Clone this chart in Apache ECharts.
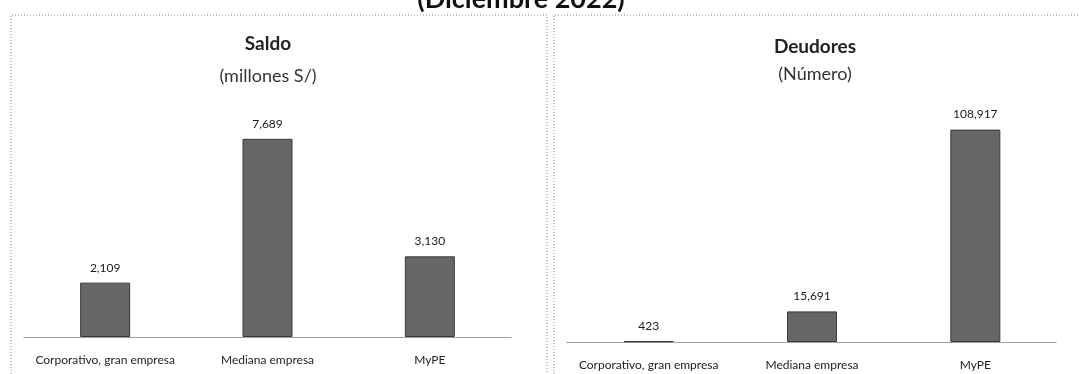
<!DOCTYPE html>
<html>
<head>
<meta charset="utf-8">
<script src="https://cdn.jsdelivr.net/npm/echarts@6/dist/echarts.min.js"></script>
<style>
  html, body { margin: 0; padding: 0; background: #fff; }
  #chart { width: 1079px; height: 374px; }
</style>
</head>
<body>
<div id="chart"></div>
<script>
// Segments shown on both panels
const categories = ['Corporativo, gran empresa', 'Mediana empresa', 'MyPE'];
// Loan balance, millions of soles
const saldo = [2109, 7689, 3130];
// Number of debtors
const deudores = [423, 15691, 108917];

const FONT = 'Lato, "Open Sans", sans-serif';
const BAR_COLOR = '#666666';
const fmt = v => v.toLocaleString('en-US');

const chart = echarts.init(document.getElementById('chart'), null, { renderer: 'canvas' });

function xAxis(gridIndex) {
  return {
    type: 'category', gridIndex, data: categories,
    axisTick: { show: false },
    axisLine: { show: true, lineStyle: { color: '#8a8a8a', type: [1, 1], width: 1 } },
    axisLabel: { color: '#222', fontFamily: FONT, fontSize: 12, margin: 17, interval: 0 }
  };
}
function yAxis(gridIndex, max) {
  return {
    type: 'value', gridIndex, min: 0, max,
    show: false, splitLine: { show: false }
  };
}
function barSeries(idx, data) {
  return {
    type: 'bar', xAxisIndex: idx, yAxisIndex: idx, data,
    barWidth: 50,
    itemStyle: { color: BAR_COLOR, borderColor: '#3a3a3a', borderWidth: 1 },
    label: {
      show: true, position: 'top', distance: 9,
      color: '#1a1a1a', fontFamily: FONT, fontSize: 12,
      formatter: p => fmt(p.value)
    },
    silent: true
  };
}

const dotted = { stroke: '#8a8a8a', lineWidth: 1, lineDash: [1, 2] };

chart.setOption({
  animation: false,
  backgroundColor: '#ffffff',
  title: [
    {
      text: 'Saldo', subtext: '(millones S/)',
      left: 268, top: 34, textAlign: 'center', padding: 0, itemGap: 14,
      textStyle: { fontFamily: FONT, fontWeight: 'bold', fontSize: 19, color: '#222' },
      subtextStyle: { fontFamily: FONT, fontSize: 18, color: '#333' }
    },
    {
      text: 'Deudores', subtext: '(Número)',
      left: 815, top: 37, textAlign: 'center', padding: 0, itemGap: 9,
      textStyle: { fontFamily: FONT, fontWeight: 'bold', fontSize: 19, color: '#222' },
      subtextStyle: { fontFamily: FONT, fontSize: 18, color: '#333' }
    }
  ],
  grid: [
    { left: 24, right: 568, top: 105, bottom: 37 },
    { left: 567, right: 22, top: 108, bottom: 32 }
  ],
  xAxis: [xAxis(0), xAxis(1)],
  yAxis: [yAxis(0, 9000), yAxis(1, 120000)],
  series: [barSeries(0, saldo), barSeries(1, deudores)],
  graphic: [
    // Overall heading, partly above the visible area
    {
      type: 'text', x: 521, y: -1,
      style: {
        text: '(Diciembre 2022)', fontFamily: FONT, fontWeight: 'bold', fontSize: 27, fill: '#111',
        textAlign: 'center', textVerticalAlign: 'middle'
      }
    },
    // Panel frames
    { type: 'polyline', shape: { points: [[11, 374], [11, 15], [547, 15], [547, 374]] }, style: Object.assign({ fill: null }, dotted) },
    { type: 'polyline', shape: { points: [[554, 374], [554, 15], [1079, 15]] }, style: Object.assign({ fill: null }, dotted) }
  ]
});
</script>
</body>
</html>
